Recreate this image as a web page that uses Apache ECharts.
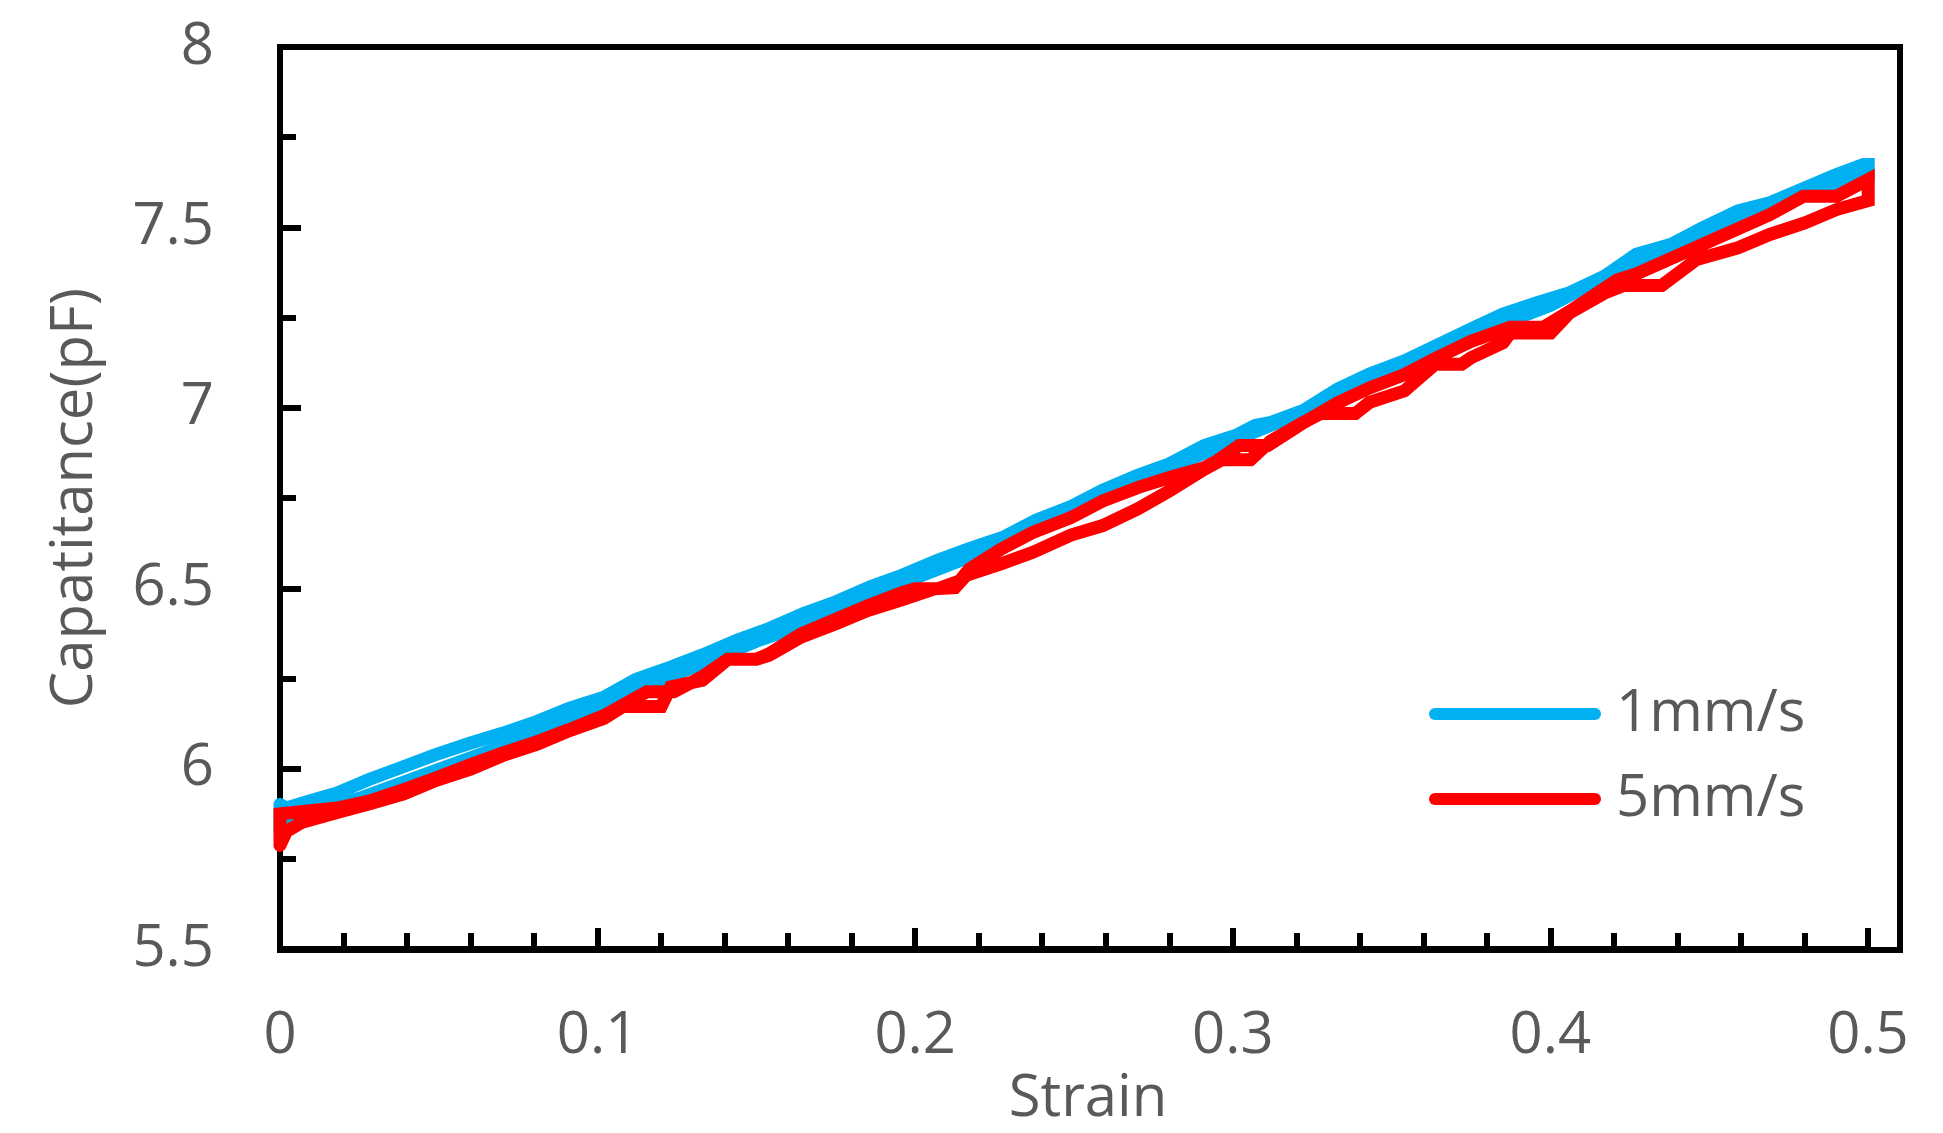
<!DOCTYPE html>
<html>
<head>
<meta charset="utf-8">
<script src="https://cdn.jsdelivr.net/npm/echarts@6/dist/echarts.min.js"></script>
<style>
  html, body { margin: 0; padding: 0; background: #fff; }
  #chart { width: 1943px; height: 1133px; }
</style>
</head>
<body>
<div id="chart"></div>
<script>
// 1mm/s, loading branch (upper edge of the blue band)
var blueUpStrain = [0, 0.002, 0.009, 0.018, 0.028, 0.039, 0.049, 0.060, 0.070, 0.081,
	0.091, 0.102, 0.112, 0.123, 0.133, 0.144, 0.154, 0.165, 0.175, 0.186,
	0.196, 0.207, 0.217, 0.228, 0.238, 0.249, 0.259, 0.270, 0.280, 0.291,
	0.301, 0.307, 0.312, 0.322, 0.333, 0.343, 0.354, 0.364, 0.375, 0.385,
	0.396, 0.406, 0.417, 0.427, 0.438, 0.448, 0.459, 0.469, 0.480, 0.490, 0.4985, 0.5];
var blueUpCap = [5.903, 5.893, 5.912, 5.935, 5.972, 6.008, 6.041, 6.073, 6.100, 6.133,
	6.169, 6.200, 6.249, 6.283, 6.317, 6.358, 6.390, 6.432, 6.464, 6.506,
	6.538, 6.579, 6.611, 6.644, 6.690, 6.728, 6.773, 6.814, 6.846, 6.897,
	6.925, 6.952, 6.961, 6.993, 7.053, 7.095, 7.131, 7.173, 7.220, 7.261,
	7.293, 7.320, 7.366, 7.426, 7.454, 7.500, 7.546, 7.569, 7.610, 7.647, 7.675, 7.675];
// 1mm/s, unloading branch
var blueDownStrain = [0, 0.01, 0.025, 0.05, 0.075, 0.1, 0.125, 0.15, 0.175, 0.2, 0.225,
	0.25, 0.275, 0.3, 0.325, 0.35, 0.375, 0.4, 0.425, 0.45, 0.475, 0.5];
var blueDownCap = [5.85, 5.88, 5.92, 6.00, 6.08, 6.17, 6.265, 6.355, 6.43, 6.53, 6.615,
	6.715, 6.815, 6.91, 7.00, 7.10, 7.20, 7.285, 7.40, 7.50, 7.58, 7.64];

// 5mm/s, lower branch
var redUpStrain = [0, 0.002, 0.007, 0.018, 0.028, 0.039, 0.049, 0.060, 0.070, 0.081,
	0.091, 0.102, 0.108, 0.120, 0.123, 0.133, 0.141, 0.150, 0.154, 0.164,
	0.175, 0.185, 0.196, 0.206, 0.2125, 0.216, 0.227, 0.237, 0.249, 0.259,
	0.270, 0.280, 0.291, 0.2965, 0.3055, 0.312, 0.322, 0.3275, 0.3385, 0.343,
	0.354, 0.3637, 0.372, 0.375, 0.385, 0.3873, 0.400, 0.406, 0.417, 0.423,
	0.435, 0.446, 0.459, 0.469, 0.480, 0.490, 0.500];
var redUpCap = [5.790, 5.828, 5.854, 5.881, 5.904, 5.932, 5.969, 6.001, 6.038, 6.070,
	6.107, 6.141, 6.174, 6.174, 6.228, 6.247, 6.305, 6.305, 6.316, 6.366,
	6.403, 6.440, 6.470, 6.500, 6.503, 6.537, 6.569, 6.601, 6.649, 6.675,
	6.721, 6.771, 6.831, 6.857, 6.857, 6.910, 6.960, 6.985, 6.985, 7.016,
	7.048, 7.122, 7.122, 7.140, 7.181, 7.208, 7.208, 7.264, 7.319, 7.340,
	7.340, 7.412, 7.444, 7.481, 7.513, 7.550, 7.575];
// 5mm/s, upper branch
var redDownStrain = [0, 0.018, 0.028, 0.039, 0.049, 0.060, 0.070, 0.081, 0.091, 0.102,
	0.1155, 0.124, 0.133, 0.141, 0.150, 0.154, 0.164, 0.175, 0.185, 0.196,
	0.200, 0.207, 0.214, 0.217, 0.227, 0.237, 0.249, 0.259, 0.270, 0.280,
	0.291, 0.295, 0.302, 0.311, 0.322, 0.333, 0.343, 0.354, 0.364, 0.375,
	0.3873, 0.3977, 0.406, 0.421, 0.427, 0.448, 0.469, 0.4796, 0.490, 0.500];
var redDownCap = [5.877, 5.893, 5.912, 5.944, 5.976, 6.013, 6.045, 6.077, 6.110, 6.149,
	6.215, 6.215, 6.257, 6.305, 6.305, 6.320, 6.375, 6.416, 6.453, 6.490,
	6.500, 6.500, 6.522, 6.554, 6.610, 6.656, 6.697, 6.743, 6.780, 6.808,
	6.835, 6.854, 6.897, 6.897, 6.959, 7.015, 7.056, 7.093, 7.139, 7.185,
	7.224, 7.224, 7.268, 7.355, 7.372, 7.454, 7.536, 7.587, 7.587, 7.633];

var seriesNames = ['1mm/s', '5mm/s'];
var seriesColors = ['#00b0f0', '#ff0000'];

// walk the loading branch out and the unloading branch back, then close at strain 0
function loop(upX, upY, downX, downY) {
	var pts = [];
	for (var i = 0; i < upX.length; i++) pts.push([upX[i], upY[i]]);
	for (var j = downX.length - 1; j >= 0; j--) pts.push([downX[j], downY[j]]);
	pts.push([upX[0], upY[0]]);
	return pts;
}

var font = '"Open Sans", "Noto Sans", sans-serif';
var grey = '#595959';
var legendIcon = 'path://M6,0L166,0A6,6,0,0,1,166,12L6,12A6,6,0,0,1,6,0Z';

var myChart = echarts.init(document.getElementById('chart'), null, { renderer: 'canvas' });
var option = {
	animation: false,
	backgroundColor: '#fff',
	textStyle: { fontFamily: font },
	grid: [
		// ticks and labels: 0 .. 0.5
		{ left: 280, right: 75, top: 47, bottom: 183, containLabel: false },
		// frame and data: the box runs a little past 0.5
		{ left: 280, right: 43, top: 47, bottom: 183, containLabel: false,
			show: true, borderColor: '#000', borderWidth: 6, backgroundColor: 'transparent' }
	],
	legend: {
		orient: 'vertical',
		left: 1429,
		top: 685,
		padding: 0,
		itemGap: 27,
		itemWidth: 172,
		itemHeight: 12,
		icon: legendIcon,
		itemStyle: { borderWidth: 0 },
		textStyle: {
			color: grey,
			fontSize: 58,
			lineHeight: 58,
			fontFamily: font,
			padding: [0, 0, 0, 10]
		},
		data: seriesNames
	},
	xAxis: [
		{
			gridIndex: 0,
			type: 'value',
			min: 0,
			max: 0.5,
			interval: 0.1,
			z: 3,
			name: 'Strain',
			nameLocation: 'middle',
			nameGap: 106,
			nameTextStyle: { color: grey, fontSize: 58, fontFamily: font, padding: [0, 0, 0, 28] },
			axisLine: { show: true, lineStyle: { color: '#000', width: 6 } },
			axisTick: { show: true, inside: true, length: 21, lineStyle: { color: '#000', width: 6 } },
			minorTick: { show: true, splitNumber: 5, length: 16, lineStyle: { color: '#000', width: 6 } },
			axisLabel: { margin: 58, color: grey, fontSize: 58, fontFamily: font },
			splitLine: { show: false }
		},
		{ gridIndex: 1, type: 'value', min: 0, max: 0.51, show: false, splitLine: { show: false } }
	],
	yAxis: [
		{
			gridIndex: 0,
			type: 'value',
			min: 5.5,
			max: 8,
			interval: 0.5,
			z: 3,
			name: 'Capatitance(pF)',
			nameLocation: 'middle',
			nameGap: 176,
			nameTextStyle: { color: grey, fontSize: 58, fontFamily: font },
			axisLine: { show: true, lineStyle: { color: '#000', width: 6 } },
			axisTick: { show: true, inside: true, length: 21, lineStyle: { color: '#000', width: 6 } },
			minorTick: { show: true, splitNumber: 2, length: 16, lineStyle: { color: '#000', width: 6 } },
			axisLabel: { margin: 66, color: grey, fontSize: 58, fontFamily: font },
			splitLine: { show: false }
		},
		{ gridIndex: 1, type: 'value', min: 5.5, max: 8, show: false, splitLine: { show: false } }
	],
	series: [
		{
			name: seriesNames[0],
			type: 'line',
			xAxisIndex: 1,
			yAxisIndex: 1,
			showSymbol: false,
			symbol: 'none',
			color: seriesColors[0],
			lineStyle: { color: seriesColors[0], width: 13, cap: 'round', join: 'miter' },
			data: loop(blueUpStrain, blueUpCap, blueDownStrain, blueDownCap)
		},
		{
			name: seriesNames[1],
			type: 'line',
			xAxisIndex: 1,
			yAxisIndex: 1,
			showSymbol: false,
			symbol: 'none',
			color: seriesColors[1],
			lineStyle: { color: seriesColors[1], width: 13, cap: 'round', join: 'miter' },
			data: loop(redUpStrain, redUpCap, redDownStrain, redDownCap)
		}
	]
};
myChart.setOption(option);
</script>
</body>
</html>
